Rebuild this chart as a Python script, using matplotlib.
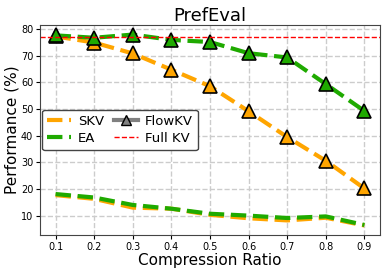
import matplotlib
matplotlib.use("Agg")
import matplotlib.pyplot as plt
from matplotlib.lines import Line2D

ratios = [0.1, 0.2, 0.3, 0.4, 0.5, 0.6, 0.7, 0.8, 0.9]
skv_base = [17.7, 16.3, 13.0, 12.6, 10.3, 9.0, 8.2, 9.2, 6.3]
ea_base = [18.1, 16.8, 14.0, 12.6, 10.7, 10.0, 9.1, 9.7, 6.5]
skv_flow = [77.3, 75.0, 70.9, 64.8, 58.6, 49.2, 39.5, 30.6, 20.2]
ea_flow = [77.7, 76.8, 78.0, 76.0, 75.2, 71.0, 69.4, 59.4, 49.3]
full_kv = 77.2

orange = "#FFA500"
green = "#1FAA00"

fig = plt.figure(figsize=(3.86, 2.72), dpi=100)
ax = fig.add_axes([0.104, 0.136, 0.880, 0.772])

ax.plot(ratios, skv_base, color=orange, ls="--", lw=3)
ax.plot(ratios, ea_base, color=green, ls="--", lw=3)
ax.plot(ratios, skv_flow, color=orange, ls="--", lw=3,
        marker="^", ms=10, mec="black", mew=1.2, mfc=orange)
ax.plot(ratios, ea_flow, color=green, ls="--", lw=3,
        marker="^", ms=10, mec="black", mew=1.2, mfc=green)
ax.axhline(full_kv, color="red", ls="--", lw=1)

ax.set_xticks(ratios)
ax.set_xticklabels([f"{r:.1f}" for r in ratios])
ax.tick_params(labelsize=7, length=3, pad=2)
ax.grid(True, ls="--", color="#cccccc", lw=1)
ax.set_axisbelow(True)
for s in ax.spines.values():
    s.set_color("#444444")

ax.set_title("PrefEval", fontsize=13, pad=3)
ax.set_xlabel("Compression Ratio", fontsize=11, labelpad=1)
ax.set_ylabel("Performance (%)", fontsize=11, labelpad=1)

handles = [
    Line2D([], [], color=orange, ls="--", lw=3),
    Line2D([], [], color=green, ls="--", lw=3),
    Line2D([], [], color="gray", lw=3, marker="^", ms=7, mfc="gray", mec="black"),
    Line2D([], [], color="red", ls="--", lw=1),
]
labels = ["SKV", "EA", "FlowKV", "Full KV"]
leg = ax.legend(handles, labels, ncol=2, loc="center left", fontsize=9.5,
                handlelength=1.8, columnspacing=0.8, handletextpad=0.5,
                borderpad=0.4, labelspacing=0.3, framealpha=1,
                borderaxespad=0.15,
                edgecolor="#444444", fancybox=True)

fig.savefig("out.png", dpi=100)
